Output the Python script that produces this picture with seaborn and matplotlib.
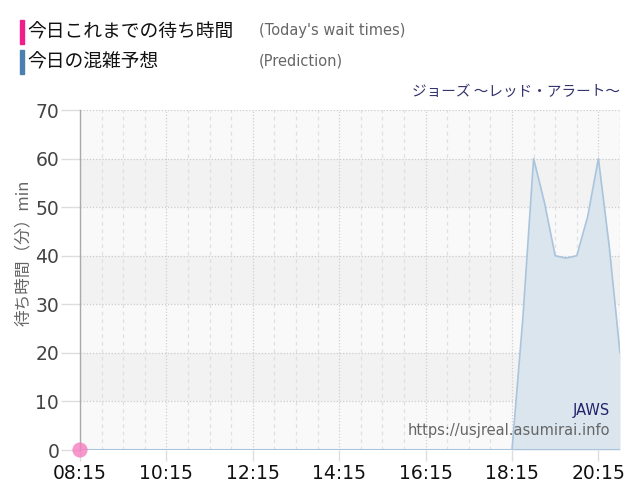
import numpy as np
import pandas as pd
import matplotlib
matplotlib.use("Agg")
import matplotlib.pyplot as plt
import matplotlib.patches as mpatches
import seaborn as sns

# ---- data ----
pred_times = pd.date_range("2024-01-01 08:15", "2024-01-01 20:45", freq="15min").strftime("%H:%M").tolist()
pred_values = [
    0, 0, 0, 0, 0, 0, 0, 0,      # 08:15 - 10:00
    0, 0, 0, 0, 0, 0, 0, 0,      # 10:15 - 12:00
    0, 0, 0, 0, 0, 0, 0, 0,      # 12:15 - 14:00
    0, 0, 0, 0, 0, 0, 0, 0,      # 14:15 - 16:00
    0, 0, 0, 0, 0, 0, 0, 0,      # 16:15 - 18:00
    0, 27, 60, 51, 40, 39.5, 40, 48, 60, 42, 20,  # 18:15 - 20:45
]
actual_times = ["08:15"]
actual_values = [0]
xtick_labels = ["08:15", "10:15", "12:15", "14:15", "16:15", "18:15", "20:15"]
yticks = [0, 10, 20, 30, 40, 50, 60, 70]

def to_h(s):
    h, m = s.split(":")
    return int(h) + int(m) / 60

df = pd.DataFrame({"t": [to_h(s) for s in pred_times], "v": pred_values})
da = pd.DataFrame({"t": [to_h(s) for s in actual_times], "v": actual_values})

sns.set_theme(style="white")
plt.rcParams["font.family"] = ["Noto Sans CJK JP", "DejaVu Sans"]

fig = plt.figure(figsize=(6.4, 5.0), dpi=100)
ax = fig.add_axes([80 / 640, 1 - 450 / 500, 540 / 640, 340 / 500])
ax.set_facecolor("#f9f9f9")

# alternating bands
for lo in range(10, 70, 20):
    ax.axhspan(lo, lo + 10, color="#f2f2f2", zorder=0, lw=0)

x0, x1 = to_h("08:15"), to_h("20:45")
ax.set_xlim(x0, x1)
ax.set_ylim(0, 70)

# grid
minor = np.arange(x0, x1 + 0.01, 0.5)
major = [to_h(s) for s in xtick_labels]
for xv in minor:
    if any(abs(xv - m) < 1e-6 for m in major):
        ax.axvline(xv, color="#cfcfcf", lw=0.9, ls=(0, (1, 1.5)), zorder=1)
    else:
        ax.axvline(xv, color="#e0e0e0", lw=0.9, ls=(0, (3, 3)), zorder=1)
ax.axvline(x1, color="#dddddd", lw=0.9, ls=(0, (3, 3)), zorder=1)
for yv in yticks[1:]:
    ax.axhline(yv, color="#cccccc", lw=0.9, ls=(0, (1, 1.5)), zorder=1)

# prediction
ax.fill_between(df["t"], df["v"], 0, color="#dae5ee", zorder=2, lw=0)
sns.lineplot(data=df, x="t", y="v", ax=ax, color="#a9c4dc", lw=1.2, zorder=3)

# actual
sns.scatterplot(data=da, x="t", y="v", ax=ax, color="#f47ec0", s=120, alpha=0.8,
                edgecolor="none", zorder=5, clip_on=False)

# axes styling
for sp in ["top", "right", "bottom"]:
    ax.spines[sp].set_visible(False)
ax.spines["left"].set_color("#aaaaaa")
ax.spines["left"].set_linewidth(1)
ax.axhline(0, color="#a9c4dc", lw=1.5, zorder=3)

ax.set_xticks(major)
ax.set_xticklabels(xtick_labels, fontsize=13.5, color="#111111", family="DejaVu Sans")
ax.set_yticks(yticks)
ax.set_yticklabels([str(v) for v in yticks], fontsize=13.5, color="#444444", family="DejaVu Sans")
ax.tick_params(axis="y", length=14, color="#dddddd", width=1, pad=1, left=True)
ax.tick_params(axis="x", length=8, color="#dddddd", width=1, pad=2, bottom=True)
ax.set_xlabel("")
ax.set_ylabel("待ち時間（分）min", fontsize=12, color="#666666")
ax.yaxis.set_label_coords(-0.089, 0.579)

# legend block
fig.patches.append(mpatches.Rectangle((20 / 640, 1 - 44 / 500), 4 / 640, 24 / 500,
                                      transform=fig.transFigure, color="#f01e8c"))
fig.patches.append(mpatches.Rectangle((20 / 640, 1 - 74 / 500), 4 / 640, 24 / 500,
                                      transform=fig.transFigure, color="#4a80b0"))
fig.text(27 / 640, 1 - 32 / 500, "今日これまでの待ち時間", fontsize=13.5, color="#111111", va="center")
fig.text(259 / 640, 1 - 31 / 500, "(Today's wait times)", fontsize=10.5, color="#666666", va="center",
         family="DejaVu Sans")
fig.text(27 / 640, 1 - 62 / 500, "今日の混雑予想", fontsize=13.5, color="#111111", va="center")
fig.text(259 / 640, 1 - 61 / 500, "(Prediction)", fontsize=10.5, color="#666666", va="center",
         family="DejaVu Sans")

fig.text(620 / 640, 1 - 92 / 500, "ジョーズ ～レッド・アラート～", fontsize=10.5, color="#33336e",
         ha="right", va="center")
fig.text(610 / 640, 1 - 410 / 500, "JAWS", fontsize=10.5, color="#22226a", ha="right", va="center",
         family="DejaVu Sans")
fig.text(610 / 640, 1 - 431 / 500, "https://usjreal.asumirai.info", fontsize=10.5, color="#666666",
         ha="right", va="center", family="DejaVu Sans")

fig.savefig("out.png", dpi=100, facecolor="white")
